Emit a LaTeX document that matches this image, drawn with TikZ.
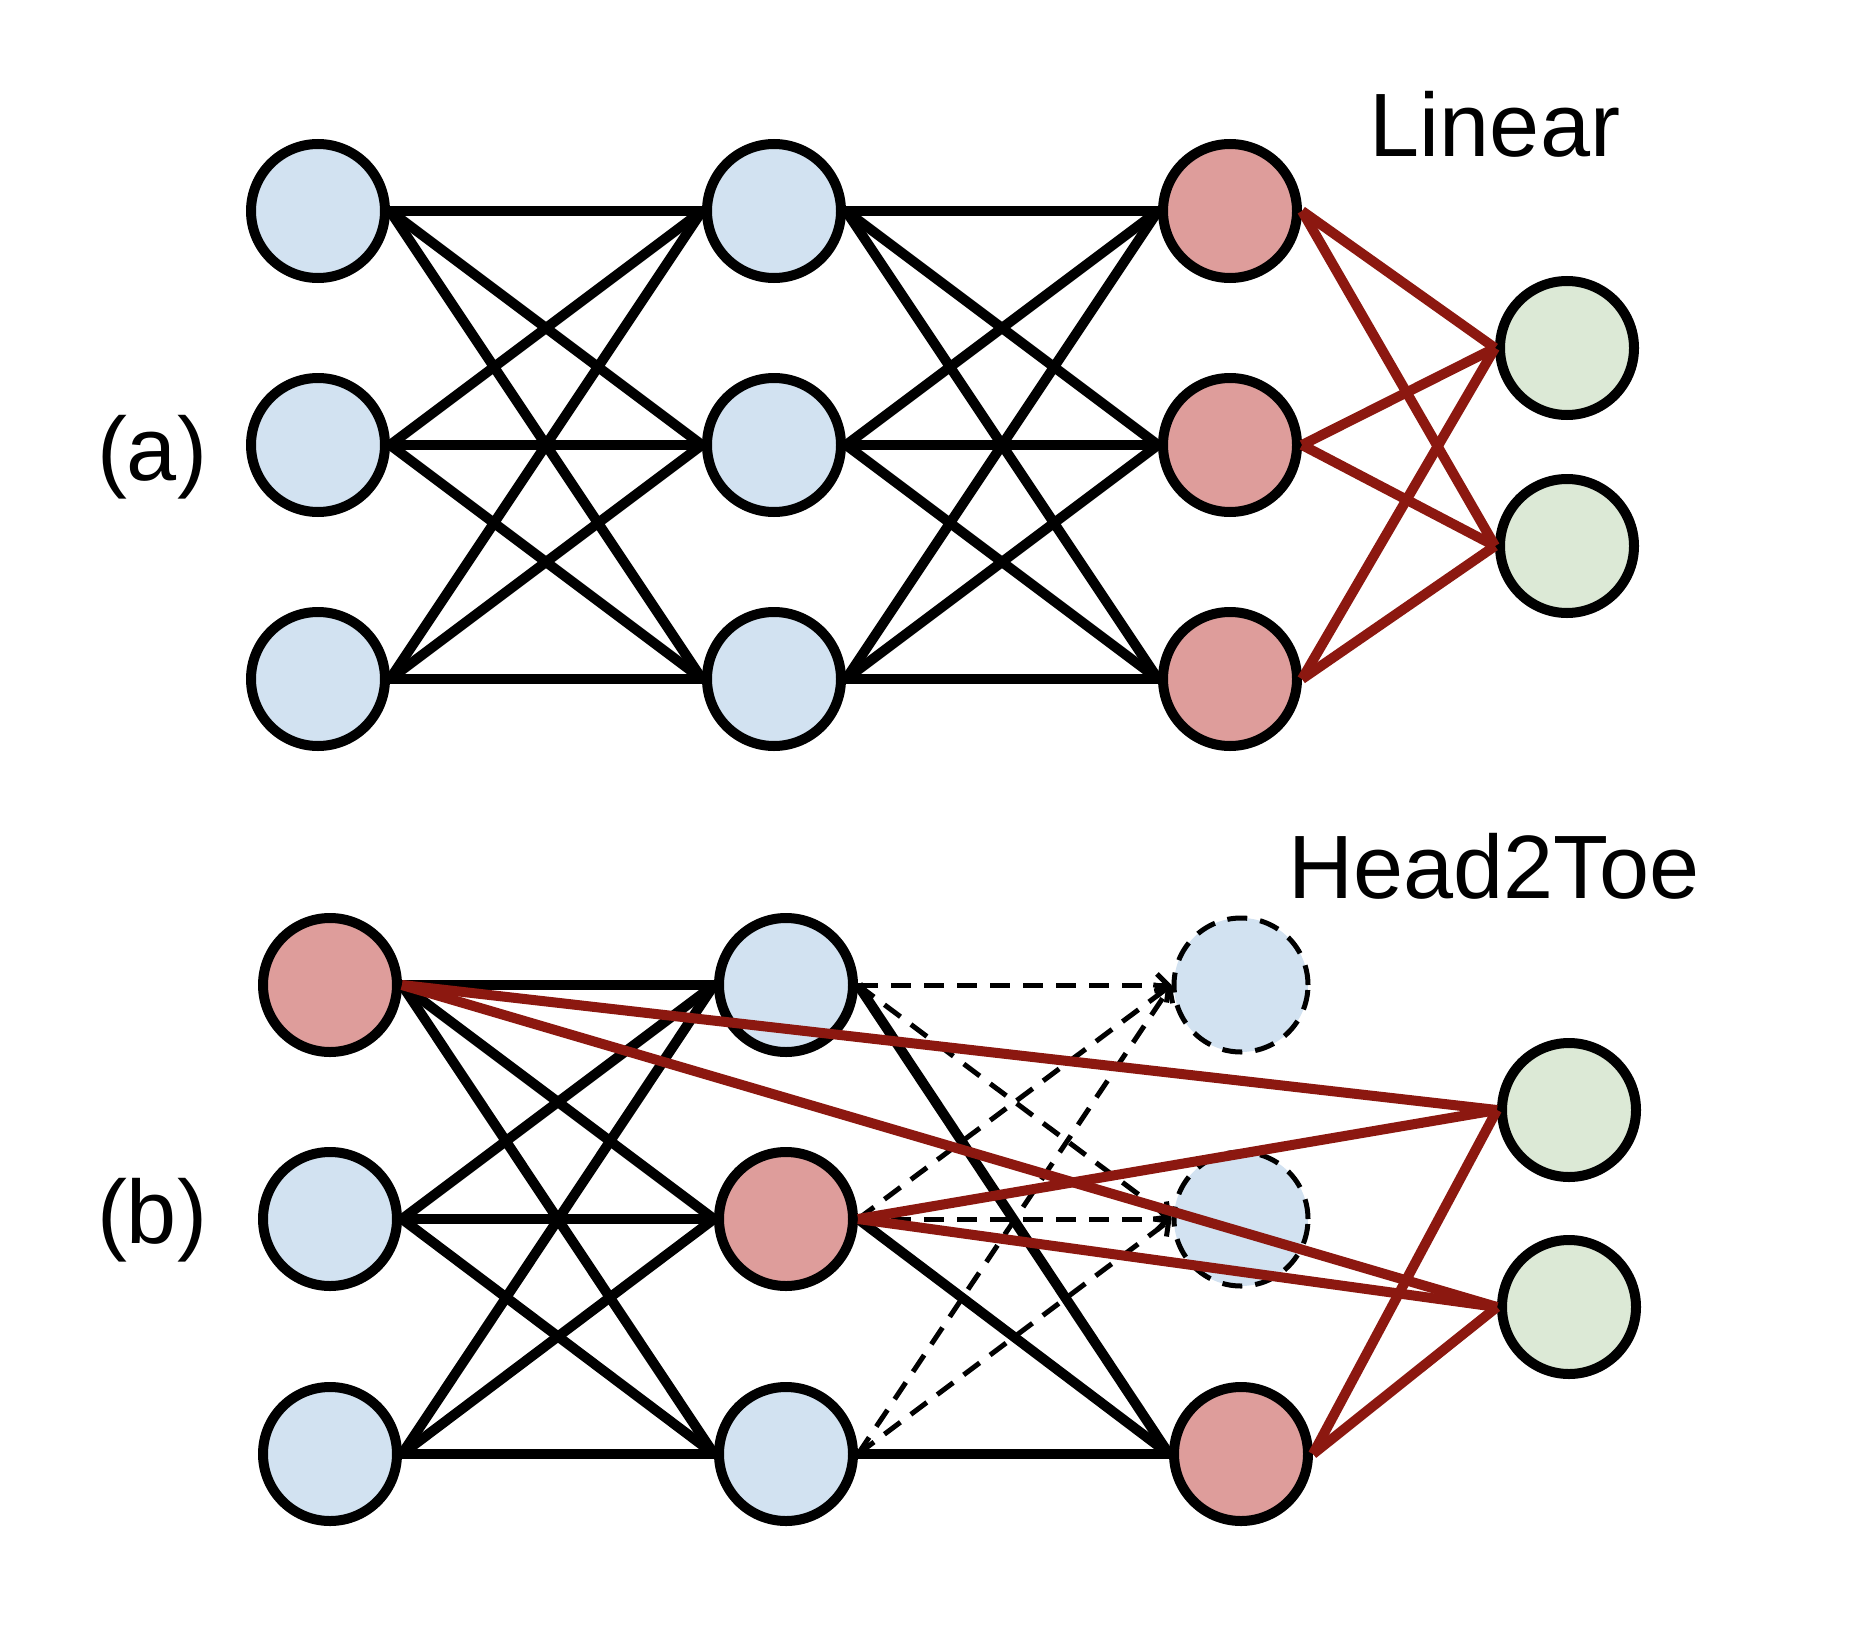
\documentclass[tikz,border=0pt]{standalone}
\usepackage{fontspec}
\setmainfont{Liberation Sans}
\usetikzlibrary{arrows.meta}
\pgfdeclarelayer{paper}
\pgfdeclarelayer{background}
\pgfsetlayers{paper,background,main}
\definecolor{nblue}{RGB}{210,226,241}
\definecolor{nred}{RGB}{222,157,155}
\definecolor{ngreen}{RGB}{220,233,214}
\definecolor{lred}{RGB}{140,24,16}
\begin{document}
\begin{tikzpicture}[x=1pt,y=-1pt,
  neuron/.style={circle,draw=black,line width=10pt,minimum size=134pt,inner sep=0pt},
  bluen/.style={neuron,fill=nblue},
  redn/.style={neuron,fill=nred},
  greenn/.style={neuron,fill=ngreen},
  ghostn/.style={circle,draw=black,fill=nblue,line width=5pt,dash pattern=on 20pt off 13pt,minimum size=134pt,inner sep=0pt},
  conn/.style={line width=10pt,black},
  redconn/.style={line width=10pt,lred},
  dconn/.style={line width=5pt,black,dash pattern=on 20pt off 13pt,-{Straight Barb[length=11pt,width=22pt]}},
  lbl/.style={font=\fontsize{90}{100}\selectfont,anchor=base,inner sep=0pt}]
\useasboundingbox (0,0) rectangle (1852,1632);
\begin{pgfonlayer}{paper}
\fill[white] (0,0) rectangle (1852,1632);
\end{pgfonlayer}

% ---------- (a) Linear ----------
\node[bluen] (a11) at (318,211) {};
\node[bluen] (a12) at (318,445) {};
\node[bluen] (a13) at (318,679) {};
\node[bluen] (a21) at (774,211) {};
\node[bluen] (a22) at (774,445) {};
\node[bluen] (a23) at (774,679) {};
\node[redn] (a31) at (1230,211) {};
\node[redn] (a32) at (1230,445) {};
\node[redn] (a33) at (1230,679) {};
\node[greenn] (ag1) at (1567,348) {};
\node[greenn] (ag2) at (1567,546) {};

\node[lbl] (tlin) at (1495,157) {Linear};
\node[lbl] (ta) at (152,480) {(a)};

% ---------- (b) Head2Toe ----------
\node[redn] (b11) at (330,985) {};
\node[bluen] (b12) at (330,1219) {};
\node[bluen] (b13) at (330,1454) {};
\node[bluen] (b21) at (786,985) {};
\node[redn] (b22) at (786,1219) {};
\node[bluen] (b23) at (786,1454) {};
\node[ghostn] (bd1) at (1241,985) {};
\node[ghostn] (bd2) at (1241,1219) {};
\node[redn] (b33) at (1241,1454) {};
\node[greenn] (bg1) at (1569,1110) {};
\node[greenn] (bg2) at (1569,1307) {};

\node[lbl] (thead) at (1494,898) {Head2Toe};
\node[lbl] (tb) at (152,1243) {(b)};

\begin{pgfonlayer}{background}
  \foreach \i in {1,2,3}{
    \foreach \j in {1,2,3}{
      \draw[conn] (a1\i.east) -- (a2\j.west);
      \draw[conn] (a2\i.east) -- (a3\j.west);
      \draw[conn] (b1\i.east) -- (b2\j.west);
    }
    \draw[conn] (b2\i.east) -- (b33.west);
    \draw[dconn] (b2\i.east) -- (bd1.west);
    \draw[dconn] (b2\i.east) -- (bd2.west);
  }
\end{pgfonlayer}

% red connections on top
\foreach \i in {1,2,3}{
  \draw[redconn] (a3\i.east) -- (ag1.west);
  \draw[redconn] (a3\i.east) -- (ag2.west);
}
\draw[redconn] (b11.east) -- (bg1.west);
\draw[redconn] (b11.east) -- (bg2.west);
\draw[redconn] (b22.east) -- (bg1.west);
\draw[redconn] (b22.east) -- (bg2.west);
\draw[redconn] (b33.east) -- (bg1.west);
\draw[redconn] (b33.east) -- (bg2.west);
\end{tikzpicture}
\end{document}
